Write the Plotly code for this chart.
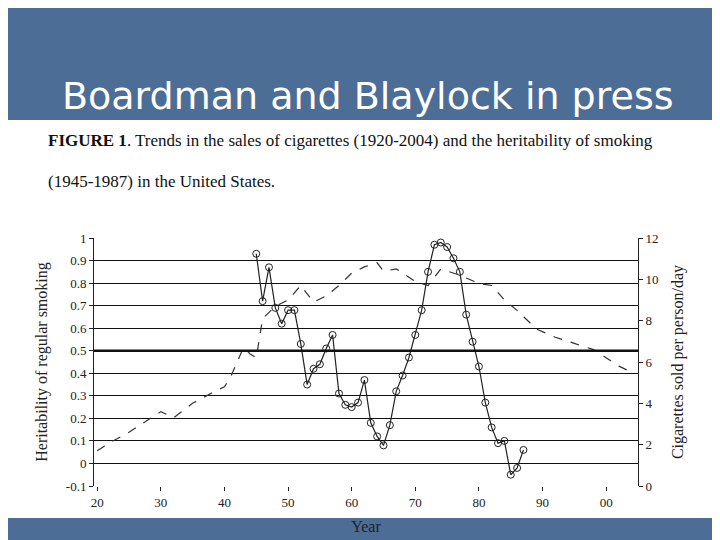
import plotly.graph_objects as go

# heritability of regular smoking, 1945-1987
h_years = list(range(1945, 1988))
h_vals = [0.93, 0.72, 0.87, 0.69, 0.62, 0.68, 0.68, 0.53, 0.35, 0.42, 0.44, 0.51, 0.57,
          0.31, 0.26, 0.25, 0.27, 0.37, 0.18, 0.12, 0.08, 0.17, 0.32, 0.39, 0.47, 0.57,
          0.68, 0.85, 0.97, 0.98, 0.96, 0.91, 0.85, 0.66, 0.54, 0.43, 0.27, 0.16, 0.09,
          0.10, -0.05, -0.02, 0.06]

# cigarettes sold per person per day
c_years = [1920, 1922, 1925, 1928, 1930, 1932, 1935, 1938, 1940, 1941, 1943, 1944, 1945,
           1946, 1948, 1950, 1952, 1954, 1956, 1958, 1960, 1962, 1964, 1965, 1967, 1970,
           1972, 1974, 1977, 1980, 1982, 1984, 1986, 1989, 1992, 1995, 1998, 2000, 2002, 2004]
c_vals = [1.7, 2.1, 2.6, 3.2, 3.6, 3.3, 4.0, 4.5, 4.8, 5.3, 6.7, 6.4, 6.2,
          8.1, 8.7, 9.0, 9.7, 8.9, 9.2, 9.7, 10.3, 10.6, 10.8, 10.4, 10.5, 9.9,
          9.7, 10.5, 10.2, 9.8, 9.7, 9.0, 8.5, 7.6, 7.2, 6.9, 6.6, 6.2, 5.8, 5.5]

y_ticks = [-0.1, 0, 0.1, 0.2, 0.3, 0.4, 0.5, 0.6, 0.7, 0.8, 0.9, 1]
y_labels = ["-0.1", "0", "0.1", "0.2", "0.3", "0.4", "0.5", "0.6", "0.7", "0.8", "0.9", "1"]

fig = go.Figure()
fig.add_trace(go.Scatter(x=c_years, y=c_vals, yaxis="y2", mode="lines",
                         line=dict(color="#333", width=1.2, dash="dash"), showlegend=False))
fig.add_trace(go.Scatter(x=h_years, y=h_vals, mode="lines+markers",
                         line=dict(color="#222", width=1.2),
                         marker=dict(symbol="circle-open", size=7, color="#222", line=dict(width=1)),
                         showlegend=False))

serif = "Liberation Serif"
fig.update_layout(
    width=720, height=540,
    margin=dict(l=86, r=90, t=230, b=62),
    paper_bgcolor="#4c6d96", plot_bgcolor="white",
    font=dict(family=serif, color="#222", size=13),
    xaxis=dict(range=[1919.5, 2005], tickvals=[1920, 1930, 1940, 1950, 1960, 1970, 1980, 1990, 2000],
               ticktext=["20", "30", "40", "50", "60", "70", "80", "90", "00"],
               showgrid=False, zeroline=False, ticks="outside", ticklen=4, tickcolor="#222",
               title=dict(text="Year", font=dict(size=16), standoff=12)),
    yaxis=dict(range=[-0.1, 1.0], tickvals=y_ticks, ticktext=y_labels, showgrid=True,
               gridcolor="#111", gridwidth=1, zeroline=False, showline=True, linecolor="#222",
               ticks="outside", ticklen=4, tickcolor="#222",
               title=dict(text="Heritability of regular smoking", font=dict(size=16), standoff=14)),
    yaxis2=dict(range=[0, 12], dtick=2, overlaying="y", side="right", showgrid=False,
                zeroline=False, showline=True, linecolor="#222", ticks="outside", ticklen=4,
                tickcolor="#222",
                title=dict(text="Cigarettes sold per person/day", font=dict(size=16), standoff=14)),
    shapes=[
        dict(type="rect", xref="paper", yref="paper", x0=-0.2, x1=1.2, y0=-0.129, y1=1.476,
             fillcolor="white", line=dict(width=0), layer="below"),
        dict(type="line", xref="paper", yref="y", x0=0, x1=1, y0=0.5, y1=0.5,
             line=dict(color="#111", width=2.5)),
    ],
    annotations=[
        dict(text="Boardman and Blaylock in press", xref="paper", yref="paper", x=-0.0625, y=1.573,
             xanchor="left", yanchor="middle", showarrow=False,
             font=dict(family="DejaVu Sans", size=38, color="white")),
        dict(text="<b>FIGURE 1</b>. Trends in the sales of cigarettes (1920-2004) and the heritability of smoking",
             xref="paper", yref="paper", x=-0.088, y=1.395, xanchor="left", yanchor="middle",
             showarrow=False, font=dict(family=serif, size=17, color="#111")),
        dict(text="(1945-1987) in the United States.", xref="paper", yref="paper", x=-0.088, y=1.226,
             xanchor="left", yanchor="middle", showarrow=False,
             font=dict(family=serif, size=17, color="#111")),
    ],
)
fig.write_html("out.html")
